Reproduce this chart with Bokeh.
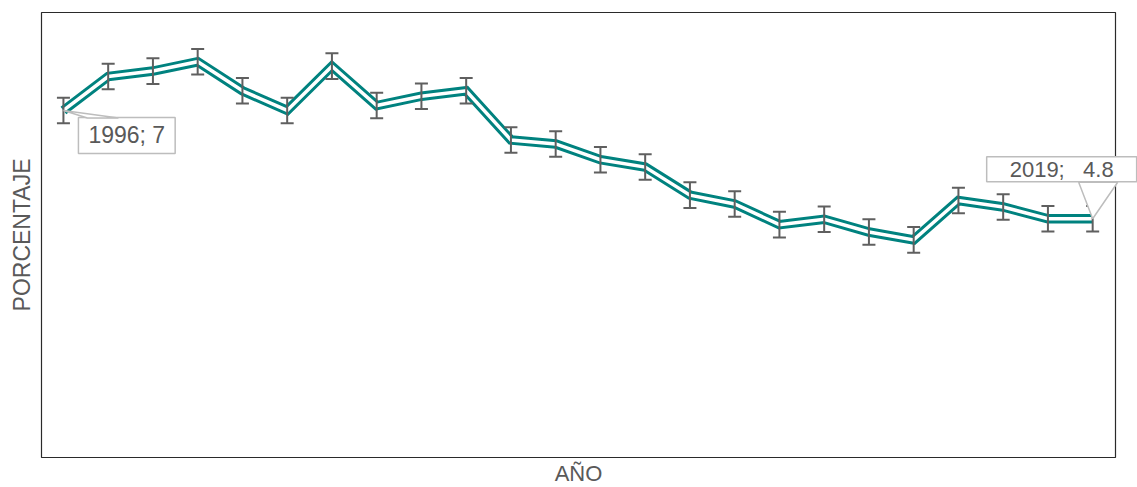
from bokeh.plotting import figure
from bokeh.models import Label, PolyAnnotation, BoxAnnotation, FixedTicker, Range1d
from bokeh.embed import file_html
from bokeh.resources import INLINE

years = [1996, 1997, 1998, 1999, 2000, 2001, 2002, 2003, 2004, 2005, 2006, 2007,
         2008, 2009, 2010, 2011, 2012, 2013, 2014, 2015, 2016, 2017, 2018, 2019]
values = [7.00, 7.69, 7.80, 7.99, 7.40, 7.00, 7.90, 7.10, 7.29, 7.40, 6.40, 6.32,
          6.00, 5.85, 5.28, 5.10, 4.68, 4.79, 4.53, 4.37, 5.17, 5.04, 4.80, 4.80]
lower = [6.74, 7.43, 7.54, 7.73, 7.14, 6.74, 7.64, 6.84, 7.03, 7.14, 6.14, 6.06,
         5.74, 5.59, 5.02, 4.84, 4.42, 4.53, 4.27, 4.11, 4.91, 4.78, 4.54, 4.54]
upper = [7.26, 7.95, 8.06, 8.25, 7.66, 7.26, 8.16, 7.36, 7.55, 7.66, 6.66, 6.58,
         6.26, 6.11, 5.54, 5.36, 4.94, 5.05, 4.79, 4.63, 5.43, 5.30, 5.06, 5.06]
first_label = "1996; 7"
last_label = "2019; \u00a0 4.8"
x_title = "AÑO"
y_title = "PORCENTAJE"

W, H = 1137, 487
BOX_L, BOX_T = 41, 12         # panel box position in px
BOX_W, BOX_H = 1074, 445      # panel box size in px
X0, X1 = 1995.51, 2019.51     # data limits of the panel box
Y0, Y1 = -0.05, 8.99

def dx(px):
    return px * (X1 - X0) / BOX_W

def dy(px):
    return px * (Y1 - Y0) / BOX_H

# the frame covers the whole canvas so callouts are never clipped
XS, XE = X0 - dx(BOX_L), X0 + dx(W - BOX_L)
YS, YE = Y0 - dy(H - BOX_T - BOX_H), Y1 + dy(BOX_T)

TEAL = "#00827f"
GREY = "#5f5f5f"
TXT = "#595959"
CALL = "#bdbdbd"
FONT = "Liberation Sans"

p = figure(width=W, height=H, output_backend="svg", toolbar_location=None,
           x_range=Range1d(XS, XE), y_range=Range1d(YS, YE),
           min_border=0)
p.xgrid.visible = False
p.ygrid.visible = False
p.outline_line_color = None
p.background_fill_color = "white"
p.border_fill_color = "white"

for ax, lab in ((p.xaxis, x_title), (p.yaxis, y_title)):
    ax.ticker = FixedTicker(ticks=[])
    ax.axis_line_color = None
    ax.major_tick_out = 0
    ax.major_tick_in = 0
    ax.minor_tick_out = 0
    ax.minor_tick_in = 0
    ax.major_label_standoff = 0
    ax.axis_label = lab
    ax.axis_label_text_font = FONT
    ax.axis_label_text_font_style = "normal"
    ax.axis_label_text_color = TXT
p.xaxis.axis_label_text_font_size = "22px"
p.yaxis.axis_label_text_font_size = "23px"
p.xaxis.fixed_location = Y0
p.yaxis.fixed_location = X0
p.xaxis.bounds = (X0, X1)
p.yaxis.bounds = (Y0, Y1)
p.xaxis.axis_label_standoff = 3
p.yaxis.axis_label_standoff = 7

# panel box
p.add_layout(BoxAnnotation(left=X0, right=X1, bottom=Y0, top=Y1,
                           fill_alpha=0, line_color="#2a2a2a", line_alpha=1.0,
                           line_width=1.2))

# double line
p.line(years, values, line_color=TEAL, line_width=9.5, line_join="miter")
p.line(years, values, line_color="white", line_width=3.5, line_join="miter")
# error bars
p.segment(x0=years, y0=lower, x1=years, y1=upper, line_color=GREY, line_width=2)
p.scatter(years, lower, marker="dash", size=13, line_color=GREY, line_width=2)
p.scatter(years, upper, marker="dash", size=13, line_color=GREY, line_width=2)

# callouts
x_first, y_first = years[0], values[0]
x_last, y_last = years[-1], values[-1]

lab1 = Label(x=x_first, y=y_first, x_offset=15, y_offset=-7, text=first_label,
             text_align="left", text_baseline="top", text_font=FONT,
             text_font_size="23px", text_color=TXT,
             background_fill_color="white", border_line_color=CALL,
             border_line_width=1.5, padding=dict(left=10, right=10, top=5, bottom=5))
p.add_layout(lab1)
tail1 = PolyAnnotation(xs=[x_first, x_first + dx(24), x_first + dx(55)],
                       ys=[y_first, y_first - dy(7.5), y_first - dy(7.5)],
                       fill_color="white", fill_alpha=1.0,
                       line_color=CALL, line_alpha=1.0, line_width=1.5)
p.add_layout(tail1)

lab2 = Label(x=x_last, y=y_last, x_offset=-106, y_offset=62, text=last_label,
             text_align="left", text_baseline="top", text_font=FONT,
             text_font_size="22px", text_color=TXT,
             background_fill_color="white", border_line_color=CALL,
             border_line_width=1.5, padding=dict(left=23, right=23, top=0, bottom=0))
p.add_layout(lab2)
tail2 = PolyAnnotation(xs=[x_last, x_last - dx(14), x_last + dx(25)],
                       ys=[y_last, y_last + dy(36.5), y_last + dy(36.5)],
                       fill_color="white", fill_alpha=1.0,
                       line_color=CALL, line_alpha=1.0, line_width=1.5)
p.add_layout(tail2)

open("out.html", "w").write(file_html(p, INLINE))
